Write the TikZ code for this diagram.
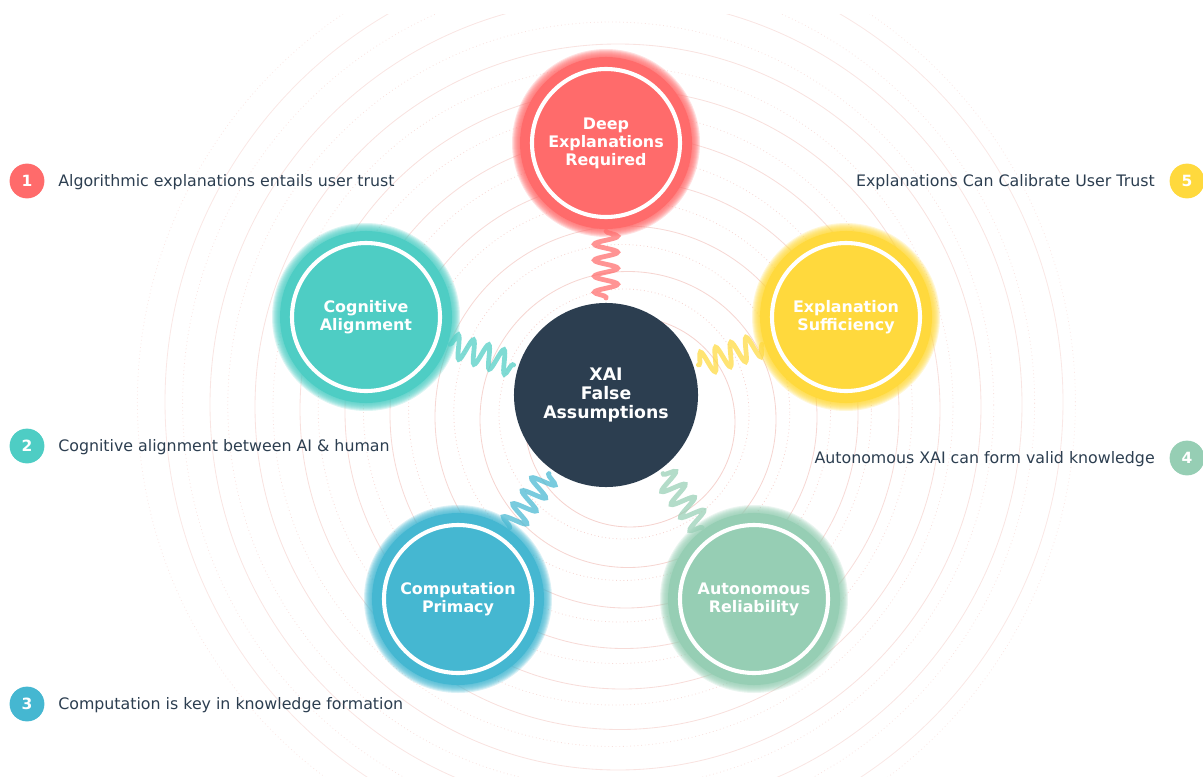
\documentclass[tikz,border=0pt]{standalone}
\usepackage{fontspec}
\setmainfont{DejaVu Sans}
\usetikzlibrary{decorations.pathmorphing,calc}
\definecolor{cRed}{HTML}{FF6B6B}
\definecolor{cTeal}{HTML}{4ECDC4}
\definecolor{cYel}{HTML}{FFD93D}
\definecolor{cBlue}{HTML}{45B7D1}
\definecolor{cGreen}{HTML}{96CEB4}
\definecolor{cDark}{HTML}{2C3E50}
\definecolor{cRing}{HTML}{E8968C}
\begin{document}
\begin{tikzpicture}[x=0.025cm,y=-0.025cm,
  ringsolid/.style={draw=cRing, line width=0.6pt},
  ringdot/.style={draw=cRing, line width=0.6pt, dotted},
  hub/.style={circle, fill=cDark, minimum size=4.6cm, inner sep=0pt, text=white,
    font=\bfseries\fontsize{12.3}{13.6}\selectfont, align=center},
  pillar/.style={circle, fill=#1, minimum size=4.3cm, inner sep=0pt, text=white,
    font=\bfseries\fontsize{11.3}{12.8}\selectfont, align=center},
  glow/.style={fill=#1, fill opacity=0.2},
  whitering/.style={draw=white, line width=2.9pt},
  spring/.style={draw=#1, decorate, decoration={snake, amplitude=0.29cm, segment length=0.4cm},
    line width=3.4pt, draw opacity=0.72, line cap=round},
  badge/.style={circle, fill=#1, minimum size=0.87cm, inner sep=0pt, text=white,
    font=\bfseries\fontsize{11}{12}\selectfont},
  lbl/.style={text=cDark, font=\fontsize{11.25}{13}\selectfont, inner sep=0pt}
]
\useasboundingbox (0,0) rectangle (1203,776);
% background rings
\begin{scope}
\clip (0,14) rectangle (1203,776);
\foreach \k [evaluate=\k as \cx using 630-2*\k,
             evaluate=\k as \cy using 422-2.5*\k,
             evaluate=\k as \rr using 105+43*\k,
             evaluate=\k as \dx using 624-2.2*\k,
             evaluate=\k as \dy using 414-1.5*\k,
             evaluate=\k as \dr using 125+43*\k,
             evaluate=\k as \op using 0.42-0.025*\k] in {0,...,8} {
  \draw[ringsolid, draw opacity=\op] (\cx,\cy) circle[radius=\rr*0.025cm];
  \draw[ringdot, draw opacity=\op] (\dx,\dy) circle[radius=\dr*0.025cm];
}
\end{scope}
% glows
\foreach \px/\py/\cc in {606/143/cRed, 366/317/cTeal, 846/317/cYel, 458/599/cBlue, 754/599/cGreen} {
  \foreach \r in {94,93,...,87} {
    \fill[glow=\cc] (\px,\py) circle[radius=\r*0.025cm];
  }
}
% nodes
\node[hub] (c) at (606,395) {XAI\\False\\Assumptions};
\node[pillar=cRed] (n1) at (606,143) {Deep\\Explanations\\Required};
\node[pillar=cTeal] (n2) at (366,317) {Cognitive\\Alignment};
\node[pillar=cYel] (n5) at (846,317) {Explanation\\Sufficiency};
\node[pillar=cBlue] (n3) at (458,599) {Computation\\Primacy};
\node[pillar=cGreen] (n4) at (754,599) {Autonomous\\Reliability};
\foreach \n in {n1,n2,n3,n4,n5} {
  \draw[whitering] (\n.center) circle[radius=74*0.025cm];
}
% springs
\draw[spring=cRed] ($(n1.center)!0.35!(c.center)$) -- ($(n1.center)!0.615!(c.center)$);
\draw[spring=cTeal] ($(n2.center)!0.35!(c.center)$) -- ($(n2.center)!0.615!(c.center)$);
\draw[spring=cYel] ($(n5.center)!0.35!(c.center)$) -- ($(n5.center)!0.615!(c.center)$);
\draw[spring=cBlue] ($(n3.center)!0.35!(c.center)$) -- ($(n3.center)!0.615!(c.center)$);
\draw[spring=cGreen] ($(n4.center)!0.35!(c.center)$) -- ($(n4.center)!0.615!(c.center)$);
% badges and labels
\node[badge=cRed] (b1) at (27,181) {1};
\node[badge=cTeal] (b2) at (27,446) {2};
\node[badge=cBlue] (b3) at (27,704) {3};
\node[badge=cGreen] (b4) at (1187,458) {4};
\node[badge=cYel] (b5) at (1187,181) {5};
\node[lbl, anchor=west] (l1) at (58,182.5) {Algorithmic explanations entails user trust};
\node[lbl, anchor=west] (l2) at (58,447.5) {Cognitive alignment between AI \& human};
\node[lbl, anchor=west] (l3) at (58,705.5) {Computation is key in knowledge formation};
\node[lbl, anchor=east] (l4) at (1155,459.5) {Autonomous XAI can form valid knowledge};
\node[lbl, anchor=east] (l5) at (1155,182.5) {Explanations Can Calibrate User Trust};
\end{tikzpicture}
\end{document}
